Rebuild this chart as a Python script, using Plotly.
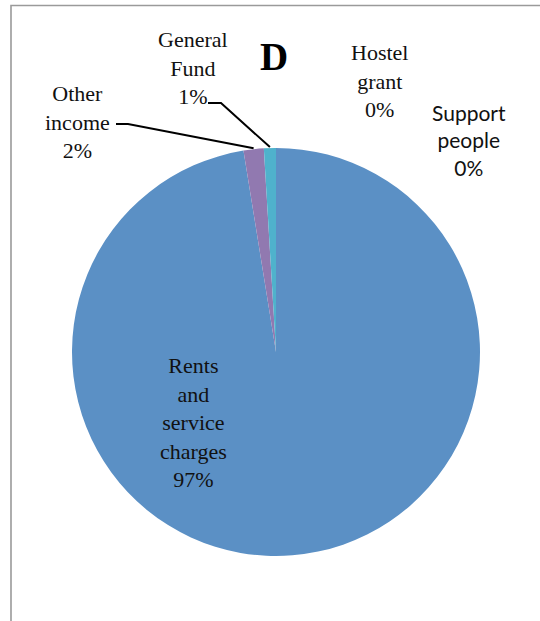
import math
import plotly.graph_objects as go

# ---- data ----
categories = ["Rents and service charges", "Other income", "General Fund", "Hostel grant", "Support people"]
label_lines = [["Rents", "and", "service", "charges"], ["Other", "income"], ["General", "Fund"],
               ["Hostel", "grant"], ["Support", "people"]]
values = [97.45, 1.6, 0.95, 0.0, 0.0]
colors = ["#5B90C5", "#9179B0", "#4FB2CC", "#C0504D", "#9BBB59"]

W, H = 540, 621
CX, CY, R = 276, 352, 204  # pie centre / radius in pixels


def px(x):
    return x / W


def py(y):
    return 1 - y / H


fig = go.Figure(go.Pie(
    labels=categories,
    values=values,
    sort=False,
    direction="clockwise",
    rotation=0,
    textinfo="none",
    hoverinfo="label+percent",
    marker=dict(colors=colors, line=dict(width=0)),
    domain=dict(x=[px(CX - R), px(CX + R)], y=[py(CY + R), py(CY - R)]),
    showlegend=False,
))

total = sum(values)
pcts = [round(v / total * 100) for v in values]
texts = ["<br>".join(lines + [f"{p}%"]) for lines, p in zip(label_lines, pcts)]

# label positions (pixel centres) and fonts
label_pos = [(193, 422), (77, 122), (193, 68), (379, 81), (469, 140)]
serif = dict(family="Liberation Serif, serif", size=22, color="#111111")
sans = dict(family="Lato, Liberation Sans, sans-serif", size=21, color="#111111")
fonts = [serif, serif, serif, serif, sans]

annotations = []
for t, (x, y), f in zip(texts, label_pos, fonts):
    annotations.append(dict(text=t, x=px(x), y=py(y), xref="paper", yref="paper",
                            xanchor="center", yanchor="middle", showarrow=False,
                            font=f, align="center"))

# title "D"
annotations.append(dict(text="<b>D</b>", x=px(274), y=py(57), xref="paper", yref="paper",
                        xanchor="center", yanchor="middle", showarrow=False,
                        font=dict(family="Liberation Serif, serif", size=39, color="#000000")))

shapes = []


def slice_mid_point(i):
    cum = sum(values[:i]) + values[i] / 2
    th = 2 * math.pi * cum / total
    return CX + R * math.sin(th), CY - R * math.cos(th)


# leader lines: (label side start, elbow) -> slice edge
leaders = {1: ((116, 124), (128, 124)), 2: ((208, 103), (221, 103))}
for i, (p0, p1) in leaders.items():
    ex, ey = slice_mid_point(i)
    path = f"M {px(p0[0])},{py(p0[1])} L {px(p1[0])},{py(p1[1])} L {px(ex)},{py(ey - 1)}"
    shapes.append(dict(type="path", path=path, xref="paper", yref="paper",
                       line=dict(color="#000000", width=2)))

# chart frame (top and left edges visible)
shapes.append(dict(type="path", xref="paper", yref="paper",
                   path=f"M {px(11)},{py(621)} L {px(11)},{py(5.5)} L {px(540)},{py(5.5)}",
                   line=dict(color="#9a9a9a", width=1.6)))

fig.update_layout(
    width=W, height=H,
    margin=dict(l=0, r=0, t=0, b=0),
    paper_bgcolor="white",
    plot_bgcolor="white",
    annotations=annotations,
    shapes=shapes,
)

fig.write_html("out.html")
